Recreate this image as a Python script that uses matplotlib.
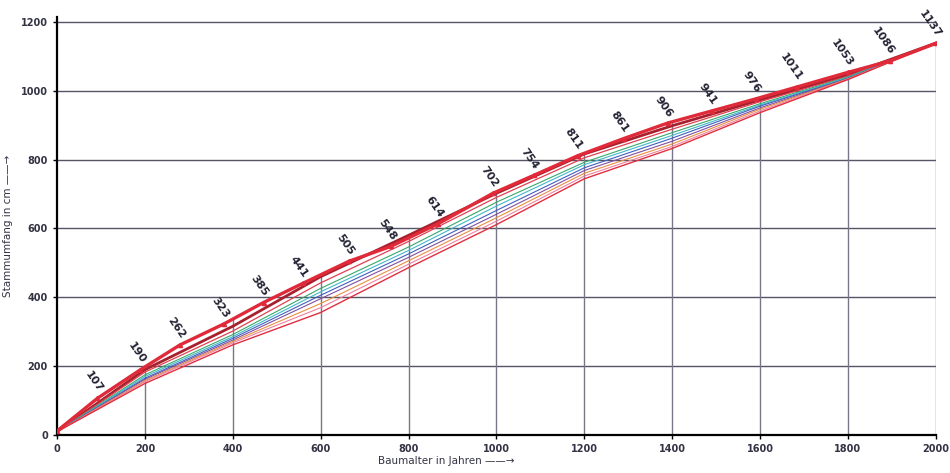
import numpy as np
import matplotlib.pyplot as plt

# Stammumfang (cm) nach Baumalter (Jahre)
alter = [0, 200, 400, 600, 800, 1000, 1200, 1400, 1600, 1800, 2000]

# obere Kurve mit beschrifteten Messpunkten
top_alter = [0, 92, 190, 280, 380, 470, 560, 665, 760, 868, 992, 1085,
             1185, 1290, 1390, 1490, 1590, 1685, 1800, 1895, 2000]
top_umfang = [12, 107, 190, 262, 323, 385, 441, 505, 548, 614, 702, 754,
              811, 861, 906, 941, 976, 1011, 1053, 1086, 1137]

# weitere Kurven
kurven = {
    'dunkelrot': [10, 190, 316, 460, 580, 702, 816, 898, 973, 1046, 1138],
    'rot':       [10, 183, 302, 442, 562, 690, 805, 888, 968, 1042, 1138],
    'gruen':     [10, 175, 292, 426, 546, 676, 792, 878, 962, 1040, 1138],
    'cyan':      [10, 170, 286, 416, 536, 665, 785, 870, 958, 1038, 1138],
    'blau':      [10, 165, 281, 406, 526, 652, 776, 862, 955, 1036, 1138],
    'lila':      [10, 162, 276, 396, 516, 641, 768, 853, 950, 1035, 1138],
    'orange':    [10, 158, 272, 382, 506, 631, 760, 845, 946, 1034, 1138],
    'rosa':      [10, 155, 268, 370, 496, 621, 752, 838, 941, 1033, 1138],
    'rot_unten': [10, 150, 262, 356, 486, 611, 744, 832, 936, 1032, 1138],
}
farben = {
    'dunkelrot': ('#a8202e', 2.0), 'rot': ('#e04050', 0.9),
    'gruen': ('#3aa86a', 0.8), 'cyan': ('#40b8c8', 0.8),
    'blau': ('#4060c0', 0.8), 'lila': ('#8050a0', 0.8),
    'orange': ('#e89040', 0.8), 'rosa': ('#f080a0', 0.8),
    'rot_unten': ('#e03040', 1.0),
}

fig = plt.figure(figsize=(9.5, 4.73), dpi=100)
ax = fig.add_axes([0.06, 0.08, 0.925, 0.885])

# Gitter: horizontal ganz, vertikal bis zur oberen Kurve
for y in range(200, 1201, 200):
    ax.axhline(y, color='#555566', lw=1.0, zorder=1)
ax.vlines(alter[1:], 0, np.interp(alter[1:], top_alter, top_umfang),
          color='#777788', lw=1.0, zorder=1)

for name, werte in kurven.items():
    c, lw = farben[name]
    ax.plot(alter, werte, color=c, lw=lw, zorder=2)

ax.plot(top_alter, top_umfang, color='#e02a3a', lw=2.4, marker='^',
        markersize=3, zorder=3)

for a, u in zip(top_alter[1:], top_umfang[1:]):
    ax.annotate(str(u), (a, u), xytext=(-1, 3), textcoords='offset points',
                rotation=-55, rotation_mode='anchor', ha='right', va='bottom',
                fontsize=8, fontweight='bold', color='#222233')

ax.set_xlim(0, 2000)
ax.set_ylim(0, 1215)
ax.set_xticks(alter)
ax.set_yticks(range(0, 1201, 200))
ax.tick_params(labelsize=7, length=3, width=1)
for t in ax.get_xticklabels() + ax.get_yticklabels():
    t.set_fontweight('bold')
    t.set_color('#333344')

ax.spines['top'].set_visible(False)
ax.spines['right'].set_visible(False)
ax.spines['left'].set_linewidth(1.6)
ax.spines['bottom'].set_linewidth(1.6)

ax.set_ylabel('Stammumfang in cm ——→', fontsize=7.5, color='#333344', labelpad=6)
fig.text(0.47, 0.02, 'Baumalter in Jahren ——→', fontsize=7.5, color='#333344',
         ha='center')

plt.savefig('out.png', dpi=100)
